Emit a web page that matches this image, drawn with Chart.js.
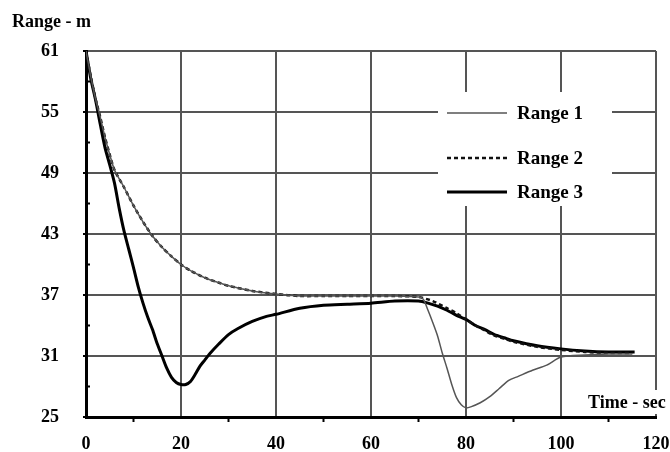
<!DOCTYPE html>
<html lang="en">
<head>
  <meta charset="UTF-8">
  <title>Range vs Time</title>
  <script src="https://cdn.jsdelivr.net/npm/chart.js"></script>
  <style>
    body { margin: 0; background: #fff; }
    .wrap { width: 670px; height: 452px; }
  </style>
</head>
<body>
  <div class="wrap">
    <canvas id="rangeChart" width="670" height="452"></canvas>
  </div>

  <script>
    // Range 1 - thin grey line, dips after the 70 s mark
    const time1 = [0, 1, 2, 3, 4, 5, 6, 8, 10, 12, 14, 16, 18, 20, 22, 25, 28, 30, 35, 40, 45, 50, 55, 60, 65, 70,
      71, 72, 73, 74, 75, 76, 77, 78, 79, 80, 81, 83, 85, 87, 89, 91, 94, 97, 100, 105, 110, 115];
    const range1 = [61, 58.5, 56.3, 54.5, 52.5, 50.8, 49.3, 47.6, 45.8, 44.2, 42.8, 41.7, 40.8, 40.0, 39.4, 38.7, 38.2, 37.9, 37.4, 37.1, 36.9, 36.9, 36.9, 36.9, 36.9, 36.8,
      36.6, 35.5, 34.3, 33.0, 31.3, 29.8, 28.2, 26.9, 26.2, 25.9, 26.0, 26.4, 27.0, 27.8, 28.6, 29.0, 29.6, 30.1, 30.9, 31.1, 31.2, 31.2];

    // Range 2 - dashed
    const time2 = [0, 1, 2, 3, 4, 5, 6, 8, 10, 12, 14, 16, 18, 20, 22, 25, 28, 30, 35, 40, 45, 50, 55, 60, 65, 70,
      73, 76, 78, 80, 82, 84, 86, 88, 90, 95, 100, 105, 110, 115];
    const range2 = [61, 58.5, 56.3, 54.5, 52.5, 50.8, 49.3, 47.6, 45.8, 44.2, 42.8, 41.7, 40.8, 40.0, 39.4, 38.7, 38.2, 37.9, 37.4, 37.1, 36.9, 36.9, 36.9, 36.9, 36.9, 36.8,
      36.4, 35.7, 35.2, 34.6, 34.0, 33.5, 33.0, 32.7, 32.4, 31.9, 31.6, 31.4, 31.3, 31.3];

    // Range 3 - thick solid
    const time3 = [0, 1, 2, 3, 4, 5, 6, 7, 8, 9, 10, 11, 12, 13, 14, 15, 16, 17, 18, 19, 20, 21, 22, 23, 24, 25, 26, 28, 30, 32, 35, 38, 40, 45, 50, 55, 60, 65, 70,
      72, 74, 76, 78, 80, 82, 84, 86, 88, 90, 95, 100, 105, 110, 115.5];
    const range3 = [61, 58.3, 56.2, 53.8, 51.5, 49.8, 48.0, 45.5, 43.3, 41.5, 39.7, 37.8, 36.2, 34.8, 33.6, 32.2, 31.0, 29.8, 28.9, 28.4, 28.2, 28.2, 28.5, 29.2, 30.0, 30.6, 31.2, 32.2, 33.1, 33.7, 34.4, 34.9, 35.1, 35.7, 36.0, 36.1, 36.2, 36.4, 36.4,
      36.2, 35.9, 35.5, 35.0, 34.6, 34.0, 33.6, 33.1, 32.8, 32.5, 32.0, 31.7, 31.5, 31.4, 31.4];

    const seriesNames = ['Range 1', 'Range 2', 'Range 3'];
    const xTicks = [0, 20, 40, 60, 80, 100, 120];
    const yTicks = [25, 31, 37, 43, 49, 55, 61];

    const serif = "'Liberation Serif', 'DejaVu Serif', serif";
    const gridColor = '#555';

    function toPoints(xs, ys) {
      return xs.map((x, i) => ({ x: x, y: ys[i] }));
    }

    const styles = [
      { borderColor: '#555', borderWidth: 1.5, borderDash: [] },
      { borderColor: '#111', borderWidth: 2.5, borderDash: [4, 3] },
      { borderColor: '#000', borderWidth: 3, borderDash: [] }
    ];

    // titles, minor ticks, legend box
    const decorations = {
      id: 'decorations',
      afterDraw(chart) {
        const ctx = chart.ctx;
        const x = chart.scales.x;
        const y = chart.scales.y;
        const area = chart.chartArea;
        ctx.save();

        ctx.strokeStyle = '#000';
        ctx.lineWidth = 2;
        // minor ticks just inside the left axis
        for (let v = 28; v < 61; v += 6) {
          const py = y.getPixelForValue(v);
          ctx.beginPath();
          ctx.moveTo(area.left, py);
          ctx.lineTo(area.left + 4, py);
          ctx.stroke();
        }
        // short stubs left of the axis at the labelled values
        yTicks.forEach((v) => {
          const py = y.getPixelForValue(v);
          ctx.beginPath();
          ctx.moveTo(area.left - 3, py);
          ctx.lineTo(area.left, py);
          ctx.stroke();
        });
        // minor ticks below the time axis
        for (let v = 10; v < 120; v += 20) {
          const px = x.getPixelForValue(v);
          ctx.beginPath();
          ctx.moveTo(px, area.bottom);
          ctx.lineTo(px, area.bottom + 5);
          ctx.stroke();
        }

        ctx.fillStyle = '#000';
        ctx.font = 'bold 18px ' + serif;
        ctx.textBaseline = 'middle';
        ctx.textAlign = 'left';
        ctx.fillText('Range - m', 12, 22);

        // x axis title sits on a white patch inside the plot
        ctx.fillStyle = '#fff';
        ctx.fillRect(584, 390, 86, 24);
        ctx.fillStyle = '#000';
        ctx.fillText('Time - sec', 588, 403);

        // legend
        ctx.fillStyle = '#fff';
        ctx.fillRect(438, 92, 174, 114);
        ctx.font = 'bold 19px ' + serif;
        const rows = [113, 158, 192];
        seriesNames.forEach((name, i) => {
          const s = styles[i];
          ctx.strokeStyle = s.borderColor;
          ctx.lineWidth = s.borderWidth;
          ctx.setLineDash(s.borderDash);
          ctx.beginPath();
          ctx.moveTo(447, rows[i]);
          ctx.lineTo(507, rows[i]);
          ctx.stroke();
          ctx.setLineDash([]);
          ctx.fillStyle = '#000';
          ctx.fillText(name, 517, rows[i] + 1);
        });
        ctx.restore();
      }
    };

    new Chart(document.getElementById('rangeChart'), {
      type: 'line',
      data: {
        datasets: [
          { label: seriesNames[0], data: toPoints(time1, range1), ...styles[0] },
          { label: seriesNames[1], data: toPoints(time2, range2), ...styles[1] },
          { label: seriesNames[2], data: toPoints(time3, range3), ...styles[2] }
        ]
      },
      options: {
        responsive: false,
        animation: false,
        layout: { padding: { top: 51, right: 14, left: 0, bottom: 0 } },
        elements: { point: { radius: 0 }, line: { tension: 0.25 } },
        plugins: { legend: { display: false }, tooltip: { enabled: false } },
        scales: {
          x: {
            type: 'linear',
            min: 0,
            max: 120,
            afterFit: (s) => { s.height = 35; },
            afterBuildTicks: (s) => {
              s.ticks = xTicks.map((v) => ({ value: v }));
            },
            ticks: {
              padding: 0,
              color: '#000',
              font: { family: serif, size: 18, weight: 'bold' },
              maxRotation: 0,
              autoSkip: false
            },
            grid: {
              color: (c) => (c.tick && c.tick.value !== 0) ? gridColor : 'transparent',
              tickColor: 'transparent',
              lineWidth: 2,
              tickLength: 17,
              borderDash: [2, 2]
            },
            border: { display: true, color: '#000', width: 3 }
          },
          y: {
            min: 25,
            max: 61,
            afterFit: (s) => { s.width = 86; },
            afterBuildTicks: (s) => {
              s.ticks = yTicks.map((v) => ({ value: v }));
            },
            ticks: {
              padding: 8,
              color: '#000',
              font: { family: serif, size: 18, weight: 'bold' }
            },
            grid: {
              color: (c) => (c.tick && c.tick.value !== 25) ? gridColor : 'transparent',
              tickColor: 'transparent',
              tickLength: 19,
              lineWidth: 2,
              borderDash: [2, 2]
            },
            border: { display: true, color: '#000', width: 3 }
          }
        }
      },
      plugins: [decorations]
    });
  </script>
</body>
</html>
